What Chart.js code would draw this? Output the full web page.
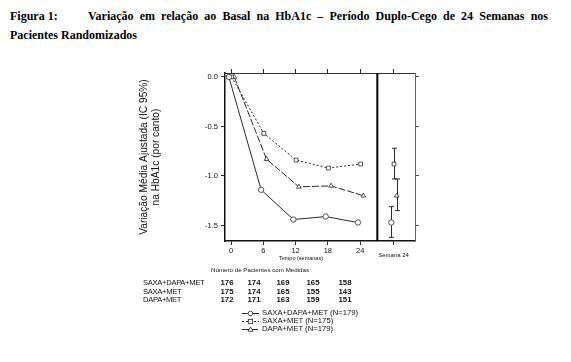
<!DOCTYPE html>
<html><head><meta charset="utf-8">
<script src="https://cdn.jsdelivr.net/npm/chart.js@4.4.1/dist/chart.umd.min.js"></script>
<style>
html,body{margin:0;padding:0;background:#fff;}
body{width:571px;height:362px;position:relative;overflow:hidden;font-family:"Liberation Sans",Arial,sans-serif;color:#111;}
#c{position:absolute;left:0;top:0;width:571px;height:362px;}
.t{position:absolute;font-family:"Liberation Serif","Times New Roman",serif;font-weight:bold;font-size:12px;color:#000;white-space:nowrap;line-height:14px;}
.s{position:absolute;white-space:nowrap;line-height:1;}
</style></head><body>
<div class="t" style="left:10px;top:9px;">Figura 1:</div>
<div class="t" style="left:88px;top:9px;width:460px;white-space:normal;text-align:justify;text-align-last:justify;">Variação em relação ao Basal na HbA1c – Período Duplo-Cego de 24 Semanas nos</div>
<div class="t" style="left:10px;top:28px;">Pacientes Randomizados</div>
<canvas id="c" width="571" height="362"></canvas>
<div id="extra"></div>
<script>
// ---- data ----
const weeks = [0, 6, 12, 18, 24];
const seriesNames = ['SAXA+DAPA+MET (N=179)', 'SAXA+MET (N=175)', 'DAPA+MET (N=179)'];
const tableNames = ['SAXA+DAPA+MET', 'SAXA+MET', 'DAPA+MET'];
const saxaDapaMet = [0, -1.14, -1.44, -1.41, -1.47];
const saxaMet = [0, -0.57, -0.84, -0.92, -0.88];
const dapaMet = [0, -0.83, -1.11, -1.10, -1.20];
const week24Est = [-1.47, -0.88, -1.20];
const week24Low = [-1.62, -1.03, -1.35];
const week24High = [-1.31, -0.72, -1.03];
const nSaxaDapaMet = [176, 174, 169, 165, 158];
const nSaxaMet = [175, 174, 165, 155, 143];
const nDapaMet = [172, 171, 163, 159, 151];
const yTicks = [0, -0.5, -1.0, -1.5];
const xTicks = [0, 6, 12, 18, 24];
const semanaLabel = 'Semana 24';
const tableHeader = 'Número de Pacientes com Medidas';
const xTitle = 'Tempo (semanas)';
const yTitle = ['Variação Média Ajustada (IC 95%)', 'na HbA1c (por canto)'];

// ---- layout/style constants ----
const SEMANA_X = 30.2, DIVIDER_X = 27.2;
const offsets = [-0.4, 0.1, 0.6];
const styles = ['circle', 'rect', 'triangle'];
const dashes = [[], [2, 2], [7, 2]];
const INK = '#2a2a2a';
const series = [saxaDapaMet, saxaMet, dapaMet];

const datasets = [];
series.forEach((vals, i) => {
  datasets.push({
    label: seriesNames[i],
    data: weeks.map((w, k) => ({x: w + offsets[i], y: vals[k]})),
    borderColor: INK, borderWidth: 1, borderDash: dashes[i],
    pointStyle: styles[i], pointRadius: 2.7,
    pointBackgroundColor: '#fff', pointBorderColor: INK, pointBorderWidth: 0.8,
    showLine: true, tension: 0
  });
});
series.forEach((vals, i) => {
  datasets.push({
    label: seriesNames[i] + ' s24',
    data: [{x: SEMANA_X + offsets[i], y: week24Est[i]}],
    showLine: false, pointStyle: styles[i], pointRadius: 2.7,
    pointBackgroundColor: '#fff', pointBorderColor: INK, pointBorderWidth: 0.8
  });
});

const errPlugin = {
  id: 'err',
  beforeDatasetsDraw(chart) {
    const {ctx, scales: {x, y}} = chart;
    ctx.save();
    ctx.strokeStyle = INK; ctx.lineWidth = 1;
    week24Est.forEach((e, i) => {
      const px = Math.round(x.getPixelForValue(SEMANA_X + offsets[i])) + 0.5;
      const y1 = y.getPixelForValue(week24Low[i]), y2 = y.getPixelForValue(week24High[i]);
      ctx.beginPath();
      ctx.moveTo(px, y1); ctx.lineTo(px, y2);
      ctx.moveTo(px - 2.5, y1); ctx.lineTo(px + 2.5, y1);
      ctx.moveTo(px - 2.5, y2); ctx.lineTo(px + 2.5, y2);
      ctx.stroke();
    });
    ctx.restore();
  },
  afterDraw(chart) {
    const {ctx, chartArea: a, scales: {x}} = chart;
    const px = x.getPixelForValue(DIVIDER_X);
    ctx.save();
    ctx.strokeStyle = '#000'; ctx.lineWidth = 2;
    ctx.beginPath(); ctx.moveTo(px, a.top); ctx.lineTo(px, a.bottom); ctx.stroke();
    ctx.restore();
  }
};

const tickFont = {family: '"Liberation Sans", Arial, sans-serif', size: 7.5};
const setXTicks = s => { s.ticks = [...xTicks, SEMANA_X].map(v => ({value: v})); };

new Chart(document.getElementById('c'), {
  type: 'scatter',
  data: {datasets},
  options: {
    responsive: false, animation: false, devicePixelRatio: 1,
    layout: {padding: {left: 130, top: 60, right: 141, bottom: 97}},
    plugins: {legend: {display: false}, tooltip: {enabled: false}},
    scales: {
      x: {
        type: 'linear', position: 'bottom', min: -1.12, max: 34.2,
        afterBuildTicks: setXTicks,
        ticks: {
          autoSkip: false, maxRotation: 0, padding: 1, color: '#111',
          font: ctx => ctx.tick && ctx.tick.value === SEMANA_X ? {family: tickFont.family, size: 6, lineHeight: 1} : tickFont,
          callback: v => v === SEMANA_X ? ['', semanaLabel] : String(v)
        },
        grid: {drawOnChartArea: false, drawTicks: true, tickLength: 4, color: INK},
        border: {display: true, color: '#111', width: 1.5},
        afterFit: s => { s.height = 24; }
      },
      x2: {
        type: 'linear', position: 'top', min: -1.12, max: 34.2,
        afterBuildTicks: setXTicks,
        ticks: {display: false},
        grid: {drawOnChartArea: false, drawTicks: true, tickLength: 4, color: INK},
        border: {display: true, color: '#333', width: 1},
        afterFit: s => { s.height = 13; }
      },
      y: {
        type: 'linear', position: 'left', min: -1.657, max: 0.04,
        afterBuildTicks: s => { s.ticks = yTicks.map(v => ({value: v})); },
        ticks: {callback: v => v.toFixed(1), font: tickFont, color: '#111', padding: 3},
        grid: {drawOnChartArea: false, drawTicks: true, tickLength: 4, color: INK},
        border: {display: true, color: '#111', width: 1.5},
        title: {display: true, text: yTitle, color: '#111',
          font: {family: tickFont.family, size: 10.2, lineHeight: 1.1}, padding: {top: 9, bottom: 0}},
        afterFit: s => { s.width = 95; }
      },
      y2: {
        type: 'linear', position: 'right', min: -1.657, max: 0.04,
        afterBuildTicks: s => { s.ticks = yTicks.map(v => ({value: v})); },
        ticks: {display: false},
        grid: {drawOnChartArea: false, drawTicks: true, tickLength: 4, color: '#555'},
        border: {display: true, color: '#666', width: 1},
        afterFit: s => { s.width = 15; }
      }
    }
  },
  plugins: [errPlugin]
});

// ---- table & legend (HTML text) ----
const ex = document.getElementById('extra');
function addText(txt, left, top, size, extra) {
  const d = document.createElement('div');
  d.className = 's';
  d.textContent = txt;
  d.style.left = left + 'px'; d.style.top = top + 'px'; d.style.fontSize = size + 'px';
  if (extra) Object.assign(d.style, extra);
  ex.appendChild(d);
  return d;
}
addText(xTitle, 271, 256, 5.5, {width: '60px', textAlign: 'center'});
addText(tableHeader, 211, 267, 6.2);
const counts = [nSaxaDapaMet, nSaxaMet, nDapaMet];
const colX = [227, 254, 283, 313, 345];
const rowY = [283, 291.5, 300];
counts.forEach((row, r) => {
  addText(tableNames[r], 143, rowY[r] - 4, 7.6, {letterSpacing: '-0.3px'});
  row.forEach((n, k) => addText(String(n), colX[k] - 12, rowY[r] - 4, 7.8, {width: '24px', textAlign: 'center', fontWeight: '600'}));
});
const legY = [313.5, 321.5, 329.5];
const svgNS = 'http://www.w3.org/2000/svg';
const svg = document.createElementNS(svgNS, 'svg');
svg.setAttribute('width', '571'); svg.setAttribute('height', '362');
svg.style.position = 'absolute'; svg.style.left = '0'; svg.style.top = '0';
ex.appendChild(svg);
seriesNames.forEach((name, i) => {
  const y = legY[i];
  const ln = document.createElementNS(svgNS, 'line');
  ln.setAttribute('x1', 242); ln.setAttribute('x2', 259); ln.setAttribute('y1', y); ln.setAttribute('y2', y);
  ln.setAttribute('stroke', INK); ln.setAttribute('stroke-width', 1);
  if (dashes[i].length) ln.setAttribute('stroke-dasharray', dashes[i].join(' '));
  svg.appendChild(ln);
  let m;
  if (styles[i] === 'circle') {
    m = document.createElementNS(svgNS, 'circle');
    m.setAttribute('cx', 250.5); m.setAttribute('cy', y); m.setAttribute('r', 2.3);
  } else if (styles[i] === 'rect') {
    m = document.createElementNS(svgNS, 'rect');
    m.setAttribute('x', 248.3); m.setAttribute('y', y - 2.2); m.setAttribute('width', 4.4); m.setAttribute('height', 4.4);
  } else {
    m = document.createElementNS(svgNS, 'polygon');
    m.setAttribute('points', `250.5,${y - 2.6} 253.1,${y + 1.8} 247.9,${y + 1.8}`);
  }
  m.setAttribute('fill', '#fff'); m.setAttribute('stroke', INK); m.setAttribute('stroke-width', 0.8);
  svg.appendChild(m);
  addText(name, 262, y - 4.1, 7.7);
});
</script>
</body></html>
